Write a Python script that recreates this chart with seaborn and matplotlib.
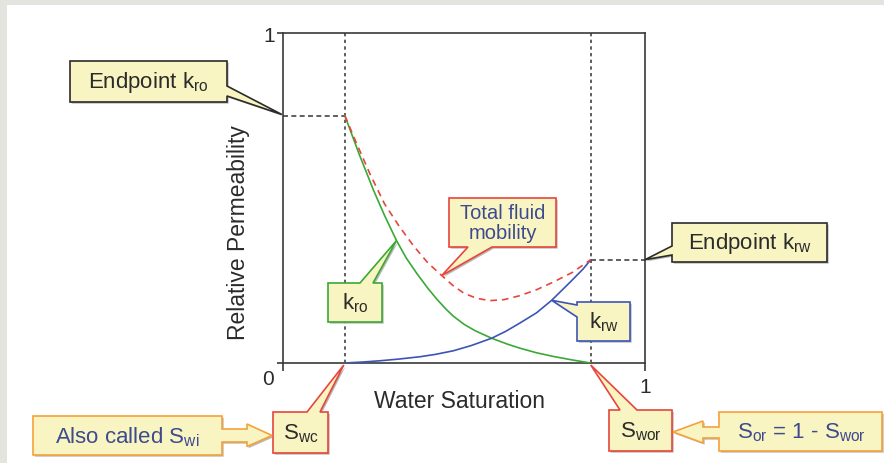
import pandas as pd
import matplotlib
matplotlib.use("Agg")
import matplotlib.pyplot as plt
import matplotlib.transforms as mtransforms
import matplotlib.patheffects as pe
from matplotlib.patches import Polygon, Rectangle
import seaborn as sns

# endpoints
SWC = 0.17
SWOR = 0.85
KRO_END = 0.75
KRW_END = 0.313

# oil relative permeability k_ro
kro_sw = [0.17, 0.21, 0.25, 0.28, 0.313, 0.34, 0.37, 0.40, 0.424, 0.45,
          0.47, 0.50, 0.53, 0.576, 0.62, 0.654, 0.70, 0.746, 0.80, 0.85]
kro = [0.75, 0.632, 0.522, 0.447, 0.371, 0.318, 0.270, 0.226, 0.194, 0.163,
       0.142, 0.117, 0.098, 0.075, 0.057, 0.045, 0.031, 0.020, 0.009, 0.0]

# water relative permeability k_rw
krw_sw = [0.17, 0.22, 0.27, 0.32, 0.378, 0.42, 0.47, 0.52, 0.576, 0.615,
          0.654, 0.70, 0.742, 0.793, 0.829, 0.85]
krw = [0.0, 0.003, 0.007, 0.012, 0.019, 0.026, 0.037, 0.053, 0.075, 0.096,
       0.121, 0.152, 0.190, 0.245, 0.285, 0.313]

# total fluid mobility (dashed)
tot_sw = [0.17, 0.20, 0.24, 0.28, 0.32, 0.36, 0.40, 0.438, 0.47, 0.50,
          0.535, 0.571, 0.61, 0.654, 0.70, 0.746, 0.80, 0.85]
tot = [0.75, 0.672, 0.572, 0.482, 0.415, 0.355, 0.303, 0.265, 0.234, 0.211,
       0.196, 0.189, 0.192, 0.204, 0.222, 0.245, 0.275, 0.313]

W, H = 884, 464
FILL = "#f8f5c2"
DARK = "#2b2b2b"
NAVY = "#3d4b8e"
GREEN = "#3aa935"
BLUE = "#3c55b5"
RED = "#e8453c"
ORANGE = "#f5a23a"

sns.set_style("ticks")
plt.rcParams["font.family"] = ["Liberation Sans", "DejaVu Sans"]
plt.rcParams["mathtext.fontset"] = "custom"
plt.rcParams["mathtext.rm"] = "Liberation Sans"


def sub(base, s):
    return base + r"$_\mathregular{" + s + "}$"


fig = plt.figure(figsize=(W / 100, H / 100), dpi=100, facecolor="#e4e4df")
fig.patches.append(Rectangle((7 / W, 0), 1, 1 - 6 / H, transform=fig.transFigure,
                             fc="white", ec="none", zorder=-10))
ax = fig.add_axes([283.3 / W, (H - 364) / H, 361.7 / W, 330 / H])
ax.set_xlim(0, 1)
ax.set_ylim(0, 1)

df = pd.concat([
    pd.DataFrame({"sw": kro_sw, "kr": kro, "curve": "kro"}),
    pd.DataFrame({"sw": krw_sw, "kr": krw, "curve": "krw"}),
    pd.DataFrame({"sw": tot_sw, "kr": tot, "curve": "total"}),
])
sns.lineplot(data=df, x="sw", y="kr", hue="curve", style="curve",
             palette={"kro": GREEN, "krw": BLUE, "total": RED},
             dashes={"kro": "", "krw": "", "total": (4, 3)},
             estimator=None, sort=False, legend=False, lw=1.2, ax=ax, zorder=3)

# endpoint guide lines
ax.vlines([SWC, SWOR], 0, 1, colors="#444444", lw=1.2, linestyles=(0, (2, 2)), zorder=2)
ax.hlines(KRO_END, 0, SWC, colors="#444444", lw=1.2, linestyles=(0, (3, 2)), zorder=2)
ax.hlines(KRW_END, SWOR, 1, colors="#444444", lw=1.2, linestyles=(0, (3, 2)), zorder=2)

for s in ax.spines.values():
    s.set_visible(True)
    s.set_color("#3a3a3a")
    s.set_linewidth(1.2)

ax.set_xticks([0, 1])
ax.set_xticklabels(["", "1"])
ax.set_yticks([0, 1])
ax.set_yticklabels(["0", "1"])
ax.tick_params(direction="out", length=4, width=1.2, color="#3a3a3a",
               labelsize=15, labelcolor=DARK, pad=2)
ax.tick_params(axis="x", length=6, pad=4)
lbl0 = ax.get_yticklabels()[0]
lbl0.set_transform(lbl0.get_transform() +
                   mtransforms.ScaledTranslation(-1 / 72, -10 / 72, fig.dpi_scale_trans))

ax.set_xlabel("Water Saturation", fontsize=16.5, color=DARK)
ax.set_ylabel("Relative Permeability", fontsize=16.5, color=DARK)
ax.xaxis.set_label_coords((459 - 283.3) / 361.7, (364 - 390) / 330)
ax.yaxis.set_label_coords((250 - 283.3) / 361.7, (364 - 233) / 330)

# pixel coordinates measured from the top-left corner of the image
PX = mtransforms.Affine2D().scale(1 / W, -1 / H).translate(0, 1) + fig.transFigure


def data_px(x, y, dx=0, dy=0):
    px, py = ax.transData.transform((x, y))
    return px + dx, H - py + dy


def callout(box, edge, insert, ec, text, tc=DARK, fs=16, center=None):
    x0, y0, x1, y1 = box
    verts = [(x0, y0)]
    if edge == "top":
        verts += insert
    verts.append((x1, y0))
    if edge == "right":
        verts += insert
    verts.append((x1, y1))
    if edge == "bottom":
        verts += insert
    verts.append((x0, y1))
    if edge == "left":
        verts += insert
    poly = Polygon(verts, closed=True, transform=PX, fc=FILL, ec=ec, lw=1.2,
                   joinstyle="miter", zorder=5)
    poly.set_path_effects([pe.SimplePatchShadow(offset=(1.2, -1.2), shadow_rgbFace="#888888",
                                                alpha=0.6), pe.Normal()])
    fig.patches.append(poly)
    cx, cy = center if center else ((x0 + x1) / 2, (y0 + y1) / 2)
    fig.text(cx, cy, text, transform=PX, ha="center", va="center", fontsize=fs,
             color=tc, linespacing=1.05, zorder=6)


# endpoint kro
callout((70, 62, 227, 103), "right",
        [(227, 87), data_px(0, KRO_END, -1.5, -1), (227, 97)],
        DARK, sub("Endpoint k", "ro"))
# endpoint krw
callout((672, 224, 827, 263), "left",
        [(672, 256), data_px(1, KRW_END, 0, 0), (672, 247)],
        DARK, sub("Endpoint k", "rw"))
# total fluid mobility
callout((449, 199, 556, 248), "bottom",
        [(492, 248), data_px(tot_sw[7], tot[7]), (468, 248)],
        RED, "Total fluid\nmobility", tc=NAVY, fs=14.5)
# kro label
callout((328, 284, 382, 323), "top",
        [(360, 284), data_px(kro_sw[4], kro[4]), (373, 284)],
        GREEN, sub("k", "ro"))
# krw label
callout((577, 303, 630, 342), "left",
        [(577, 318), data_px(krw_sw[12], krw[12]), (577, 306)],
        BLUE, sub("k", "rw"))
# Swc
callout((273, 413, 328, 454), "top",
        [(307, 413), data_px(SWC, 0, -1, 2), (320, 413)],
        RED, sub("S", "wc"))
# Swor
callout((609, 411, 672, 452), "top",
        [(620, 411), data_px(SWOR, 0, 0, 2), (637, 411)],
        RED, sub("S", "wor"))
# orange notes with block arrows
callout((33, 417, 222, 456), "right",
        [(222, 430), (247, 430), (247, 425), (272, 436.5), (247, 447.5), (247, 443), (222, 443)],
        ORANGE, sub("Also called S", "wi"), tc=NAVY, center=(127, 437))
callout((719, 413, 882, 452), "left",
        [(719, 439), (703, 439), (703, 444), (673, 433), (703, 422), (703, 428), (719, 428)],
        ORANGE, sub("S", "or") + " = 1 - " + sub("S", "wor"), tc=NAVY, center=(801, 433))

fig.savefig("out.png", dpi=100, facecolor=fig.get_facecolor())
